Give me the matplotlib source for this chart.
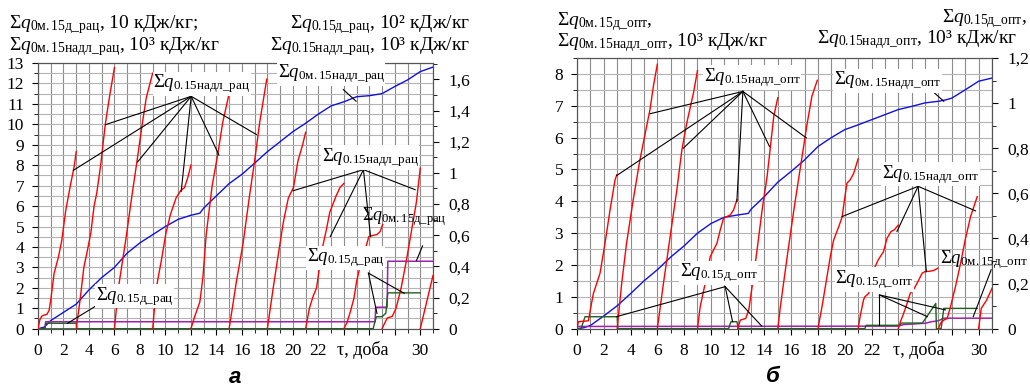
import matplotlib
matplotlib.use('Agg')
import matplotlib.pyplot as plt
import matplotlib.transforms as mtrans
from matplotlib.ticker import MultipleLocator, FuncFormatter

plt.rcParams.update({
    'font.family': ['Liberation Serif', 'DejaVu Serif'],
    'font.size': 12,
    'mathtext.fontset': 'custom',
    'mathtext.rm': 'Liberation Serif',
    'mathtext.it': 'Liberation Serif:italic',
    'mathtext.bf': 'Liberation Serif:bold',
})

# ---------- Data: panel a (рац) ----------
# cumulative Σq0м.15надл_рац, 10^3 kJ/kg (left axis)
blue_a_days = [0, 0.5, 1, 2, 3, 4, 5, 6, 7, 8, 9, 10, 11, 12, 12.7, 13, 14, 15, 16, 17,
               18, 19, 20, 21, 22, 23, 24, 25, 26, 27, 28, 29, 30, 31]
blue_a_vals = [0, 0.08, 0.4, 0.8, 1.2, 1.9, 2.5, 3.0, 3.7, 4.2, 4.6, 5.0, 5.35, 5.55, 5.65, 5.9,
               6.5, 7.1, 7.55, 8.1, 8.66, 9.15, 9.64, 10.05, 10.5, 10.9, 11.1, 11.35, 11.4,
               11.5, 11.85, 12.17, 12.58, 12.8]

# Σq0м.15д_рац, 10 kJ/kg (left axis)
purple_a_days = [0.55, 0.6, 26.45, 26.5, 27.4, 27.45, 31]
purple_a_vals = [0, 0.34, 0.34, 1.05, 1.05, 3.3, 3.3]

# Σq0.15д_рац, 10^2 kJ/kg (right axis)
green_a_days = [0, 0.55, 0.6, 3.0, 3.05, 26.3, 26.55, 27.0, 27.3, 27.45, 30.0]
green_a_vals = [0, 0, 0.035, 0.035, 0, 0, 0.077, 0.077, 0.1, 0.23, 0.23]

# Σq0.15надл_рац, 10^3 kJ/kg (right axis), one curve per 3-day cycle
red_a_days = [
    [0, 0.15, 0.3, 0.5, 0.7, 0.87, 1.0, 1.26, 1.6, 1.86, 2.18, 2.57, 2.83, 3.0],
    [3.0, 3.3, 3.6, 3.9, 4.15, 4.4, 4.6, 4.9, 5.28, 5.65, 6.0],
    [6.0, 6.3, 6.9, 7.37, 7.77, 8.2, 8.5, 9.0],
    [9.0, 9.27, 9.67, 10.05, 10.4, 10.84, 11.2, 11.5, 11.76, 12.0],
    [12.0, 12.3, 12.7, 12.94, 13.2, 13.67, 14.1, 14.5, 15.0],
    [15.0, 15.57, 16.1, 16.6, 17.0, 17.4, 17.95],
    [18.0, 18.45, 18.85, 19.25, 19.65, 20.05, 20.4, 20.77, 21.0],
    [21.0, 21.3, 21.6, 21.86, 22.0, 22.25, 22.65, 22.9, 23.4, 23.7, 24.0],
    [24.0, 24.25, 24.5, 24.8, 25.0, 25.3, 25.7, 25.96, 26.2, 26.6, 26.85, 27.05],
    [27.0, 27.4, 27.8, 28.1, 28.5, 28.9, 29.3, 29.7, 30.0],
    [30.0, 30.5, 31.0],
]
red_a_vals = [
    [0, 0.059, 0.081, 0.088, 0.092, 0.118, 0.184, 0.354, 0.459, 0.564, 0.761, 0.932, 1.037, 1.137],
    [0, 0.184, 0.394, 0.512, 0.617, 0.787, 0.866, 1.037, 1.312, 1.509, 1.675],
    [0, 0.257, 0.577, 0.853, 1.076, 1.325, 1.483, 1.640],
    [0, 0.257, 0.433, 0.617, 0.735, 0.840, 0.886, 0.906, 0.971, 1.050],
    [0, 0.079, 0.171, 0.328, 0.604, 0.919, 1.115, 1.325, 1.509],
    [0, 0.302, 0.551, 0.853, 1.076, 1.325, 1.601],
    [0, 0.257, 0.472, 0.682, 0.840, 0.906, 1.076, 1.181, 1.260],
    [0, 0.131, 0.210, 0.262, 0.341, 0.493, 0.643, 0.748, 0.853, 0.906, 0.932],
    [0, 0.039, 0.105, 0.197, 0.302, 0.407, 0.512, 0.591, 0.597, 0.604, 0.623, 0.669],
    [0, 0.068, 0.079, 0.131, 0.262, 0.433, 0.623, 0.814, 1.031],
    [0, 0.171, 0.341],
]

# ---------- Data: panel б (опт) ----------
blue_b_days = [0, 0.5, 1, 2, 3, 4, 5, 6, 7, 8, 9, 10, 11, 12, 12.8, 13, 14, 15, 16, 17,
               18, 19, 20, 21, 22, 23, 24, 25, 26, 27, 27.6, 28, 29, 30, 31]
blue_b_vals = [0, 0.03, 0.1, 0.4, 0.72, 1.1, 1.5, 1.85, 2.25, 2.6, 3.0, 3.3, 3.5, 3.57, 3.62,
               3.75, 4.15, 4.6, 4.94, 5.3, 5.72, 6.0, 6.25, 6.4, 6.56, 6.72, 6.88, 6.98, 7.09,
               7.14, 7.19, 7.24, 7.5, 7.77, 7.87]

purple_b_days = [0, 24.0, 24.4, 26.0, 26.5, 27.0, 27.4, 31]
purple_b_vals = [0.07, 0.08, 0.13, 0.17, 0.22, 0.25, 0.33, 0.33]

green_b_days = [0, 0.3, 0.6, 3.0, 3.05, 11.32, 11.5, 11.94, 12.07, 21.5, 21.6, 24.1, 24.25,
                25.8, 26.3, 26.8, 26.85, 27.2, 27.4, 29.9]
green_b_vals = [0, 0, 0.053, 0.053, 0, 0, 0.031, 0.031, 0, 0, 0.015, 0.015, 0.025,
                0.025, 0.068, 0.112, 0, 0, 0.09, 0.09]

red_b_days = [
    [0, 0.1, 0.85, 1.0, 1.22, 1.72, 2.09, 2.47, 2.84, 2.97],
    [3.0, 3.34, 3.7, 4.2, 4.7, 5.2, 5.46, 5.7, 6.0],
    [6.0, 6.46, 6.96, 7.46, 7.83, 8.2, 8.7, 9.0],
    [9.0, 9.2, 9.58, 9.95, 10.2, 10.45, 10.7, 10.95, 11.2, 11.45, 11.7, 11.95],
    [12.0, 12.2, 12.6, 12.83, 13.08, 13.45, 13.83, 14.2, 14.45, 14.7, 15.0],
    [15.0, 15.19, 15.7, 16.2, 16.7, 17.2, 17.55, 17.95],
    [18.0, 18.3, 18.55, 18.92, 19.17, 19.55, 19.8, 20.05, 20.17, 20.42, 20.67, 21.0],
    [21.0, 21.17, 21.4, 21.5, 21.8, 21.9, 22.16, 22.5, 22.9, 23.16, 23.46, 23.7, 24.0],
    [24.0, 24.16, 24.4, 24.66, 24.9, 25.2, 25.53, 25.78, 26.03, 26.28, 26.65, 26.95],
    [27.0, 27.15, 27.4, 27.65, 27.9, 28.27, 28.65, 29.0, 29.4, 29.9],
    [30.0, 30.2, 30.6, 31.0],
]
red_b_vals = [
    [0, 0.031, 0.035, 0.085, 0.155, 0.246, 0.378, 0.527, 0.659, 0.682],
    [0, 0.202, 0.378, 0.572, 0.748, 0.897, 0.974, 1.073, 1.172],
    [0, 0.202, 0.409, 0.616, 0.791, 0.912, 1.045, 1.144],
    [0, 0.097, 0.202, 0.319, 0.349, 0.378, 0.438, 0.490, 0.497, 0.504, 0.527, 0.572],
    [0, 0.038, 0.045, 0.083, 0.186, 0.349, 0.527, 0.675, 0.808, 0.942, 1.024],
    [0, 0.097, 0.319, 0.527, 0.720, 0.912, 1.031, 1.101],
    [0, 0.097, 0.186, 0.319, 0.393, 0.452, 0.494, 0.600, 0.645, 0.661, 0.689, 0.753],
    [0, 0.061, 0.127, 0.141, 0.157, 0.202, 0.261, 0.305, 0.342, 0.401, 0.431, 0.438, 0.459],
    [0, 0.031, 0.068, 0.113, 0.157, 0.179, 0.216, 0.246, 0.254, 0.254, 0.258, 0.268],
    [0, 0.024, 0.038, 0.045, 0.097, 0.186, 0.289, 0.394, 0.497, 0.586],
    [0, 0.090, 0.127, 0.179],
]

RED = '#ff0000'
BLUE = '#1010e0'
PURPLE = '#a020b0'
GREEN = '#1f5f1f'
GRID_V = '#8c8c8c'
GRID_H = '#b4b4b4'


def sq(sub):
    return r'$\Sigma q_{\mathrm{' + sub.replace('_', r'\_') + '}}$'


def comma_fmt(v, pos):
    return ('%g' % round(v, 2)).replace('.', ',')


def setup_axes(ax, ax2, ymax_left, ymax_right, tau_x):
    ax.set_xlim(0, 31)
    ax.set_ylim(0, ymax_left)
    ax2.set_ylim(0, ymax_right)
    ax.xaxis.set_major_locator(MultipleLocator(2))
    ax.xaxis.set_minor_locator(MultipleLocator(1))
    ax.yaxis.set_major_locator(MultipleLocator(1))
    ax.yaxis.set_minor_locator(MultipleLocator(0.5))
    ax2.yaxis.set_major_locator(MultipleLocator(0.2))
    ax2.yaxis.set_minor_locator(MultipleLocator(0.1))
    ax2.yaxis.set_major_formatter(FuncFormatter(comma_fmt))
    ax.xaxis.set_major_formatter(FuncFormatter(
        lambda v, p: '' if int(round(v)) in (24, 26, 28) else '%d' % v))
    ax.set_axisbelow(True)
    ax.grid(which='both', axis='x', color=GRID_V, lw=0.8)
    ax.grid(which='both', axis='y', color=GRID_H, lw=0.8)
    ax.tick_params(which='major', length=4, width=0.8, labelsize=12.5, pad=6)
    ax.tick_params(which='minor', length=3, width=0.6)
    ax2.tick_params(which='major', length=4, width=0.8, labelsize=12.5, pad=7)
    ax2.tick_params(which='minor', length=3, width=0.6)
    for a in (ax, ax2):
        for s in a.spines.values():
            s.set_color('#555555')
            s.set_linewidth(0.8)
    trans = mtrans.blended_transform_factory(ax.transData, ax.transAxes)
    ax.text(tau_x, -0.045, 'τ, доба', transform=trans, ha='center', va='top', fontsize=13)


def label(ax, ax2, x, y, txt, box=True, size=13.5):
    kw = dict(facecolor='white', edgecolor='none', pad=0.5) if box else None
    ax2.text(x, y, txt, transform=ax.transData, fontsize=size, ha='left', va='baseline',
             bbox=kw, zorder=6)


def leader(ax, ax2, origin, targets):
    for tx, ty in targets:
        ax2.plot([origin[0], tx], [origin[1], ty], color='black', lw=0.8,
                 transform=ax.transData, zorder=5)


fig = plt.figure(figsize=(10.30, 3.92), dpi=100)

# ---------- Panel a ----------
axa = fig.add_axes([0.0369, 0.1615, 0.3835, 0.6778])
axa2 = axa.twinx()
setup_axes(axa, axa2, 13, 1.705, 25.5)

axa.plot([0, 26.3], [0, 0], color=GREEN, lw=1.2, zorder=3)
axa.plot(blue_a_days, blue_a_vals, color=BLUE, lw=1.0, zorder=3)
axa.plot(purple_a_days, purple_a_vals, color=PURPLE, lw=1.1, zorder=3)
axa2.plot(green_a_days, green_a_vals, color=GREEN, lw=1.0, zorder=3)
for d, v in zip(red_a_days, red_a_vals):
    axa2.plot(d, v, color=RED, lw=1.0, zorder=3)

leader(axa, axa2, (12.02, 11.37), [(5.33, 9.99), (2.78, 7.75), (7.82, 8.16),
                                   (11.24, 6.72), (14.2, 8.5), (17.14, 9.5)])
leader(axa, axa2, (23.96, 11.7), [(24.96, 11.13)])
leader(axa, axa2, (25.54, 7.78), [(20.02, 6.75), (22.94, 4.51), (26.1, 4.5), (29.6, 6.8)])
leader(axa, axa2, (30.18, 4.05), [(29.7, 3.33)])
leader(axa, axa2, (25.93, 2.72), [(26.6, 0.75), (28.74, 1.73)])
leader(axa, axa2, (4.8, 1.21), [(2.31, 0.26)])

label(axa, axa2, 9.06, 11.8, sq('0.15надл_рац'))
label(axa, axa2, 18.8, 12.29, sq('0м.15надл_рац'))
label(axa, axa2, 22.26, 8.19, sq('0.15надл_рац'))
label(axa, axa2, 25.4, 5.3, sq('0м.15д_рац'), box=False, size=13)
label(axa, axa2, 21.1, 3.28, sq('0.15д_рац'))
label(axa, axa2, 4.54, 1.41, sq('0.15д_рац'))

fig.text(0.0087, 0.9270, sq('0м.15д_рац') + ', 10 кДж/кг;', fontsize=14, va='baseline')
fig.text(0.0087, 0.8720, sq('0м.15надл_рац') + ', 10³ кДж/кг', fontsize=14, va='baseline')
fig.text(0.4563, 0.9286, sq('0.15д_рац') + ', 10² кДж/кг', fontsize=14, va='baseline', ha='right')
fig.text(0.4563, 0.8724, sq('0.15надл_рац') + ', 10³ кДж/кг', fontsize=14, va='baseline', ha='right')

# ---------- Panel б ----------
axb = fig.add_axes([0.5602, 0.1615, 0.4029, 0.6906])
axb2 = axb.twinx()
setup_axes(axb, axb2, 8.5, 1.2, 25.5)

axb.plot(blue_b_days, blue_b_vals, color=BLUE, lw=1.0, zorder=3)
axb.plot(purple_b_days, purple_b_vals, color=PURPLE, lw=1.1, zorder=3)
axb2.plot(green_b_days, green_b_vals, color=GREEN, lw=1.0, zorder=3)
for d, v in zip(red_b_days, red_b_vals):
    axb2.plot(d, v, color=RED, lw=1.0, zorder=3)

leader(axb, axb2, (12.39, 7.45), [(5.46, 6.75), (2.97, 4.81), (7.95, 5.67),
                                  (11.94, 3.99), (14.38, 5.72), (17.13, 5.99)])
leader(axb, axb2, (26.28, 7.56), [(27.4, 7.14)])
leader(axb, axb2, (25.48, 4.47), [(19.8, 3.52), (23.9, 3.05), (26.1, 1.79), (29.77, 3.7)])
leader(axb, axb2, (30.94, 1.85), [(29.6, 0.38)])
leader(axb, axb2, (22.59, 1.06), [(22.59, 0.12), (26.16, 0.38), (27.52, 0.59)])
leader(axb, axb2, (11.07, 1.32), [(2.97, 0.38), (11.62, 0.22), (13.8, 0.08)])

label(axb, axb2, 9.45, 7.77, sq('0.15надл_опт'))
label(axb, axb2, 19.17, 7.66, sq('0м.15надл_опт'))
label(axb, axb2, 22.79, 4.73, sq('0.15надл_опт'))
label(axb, axb2, 27.1, 2.05, sq('0м.15д_опт'), box=False)
label(axb, axb2, 19.3, 1.43, sq('0.15д_опт'))
label(axb, axb2, 7.7, 1.64, sq('0.15д_опт'))

fig.text(0.5408, 0.9362, sq('0м.15д_опт') + ',', fontsize=14, va='baseline')
fig.text(0.5408, 0.881, sq('0м.15надл_опт') + ', 10³ кДж/кг', fontsize=14, va='baseline')
fig.text(0.997, 0.942, sq('0.15д_опт') + ',', fontsize=14, va='baseline', ha='right')
fig.text(0.987, 0.8895, sq('0.15надл_опт') + ', 10³ кДж/кг', fontsize=14, va='baseline', ha='right')

# panel letters
fig.text(0.228, 0.036, 'а', fontsize=16, fontweight='bold', fontstyle='italic',
         family='Liberation Sans', ha='center', va='center')
fig.text(0.750, 0.040, 'б', fontsize=16, fontweight='bold', fontstyle='italic',
         family='Liberation Sans', ha='center', va='center')

fig.savefig('out.png', dpi=100)
